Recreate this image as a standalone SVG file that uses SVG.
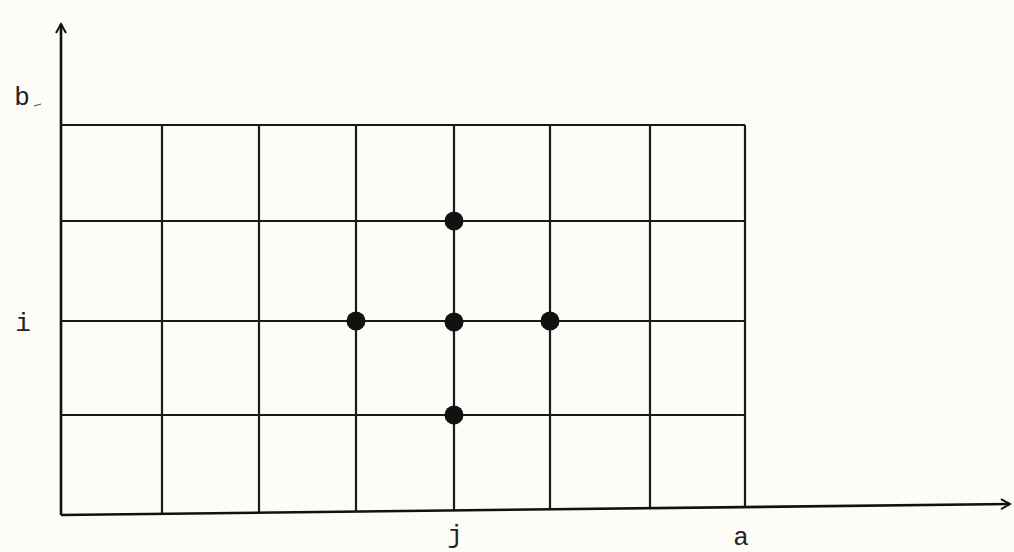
<svg xmlns="http://www.w3.org/2000/svg" width="1014" height="552" viewBox="0 0 1014 552">
<defs>
<style>
.g{stroke:#1a1a1a;stroke-width:2.2;fill:none}
.ax{stroke:#111;stroke-width:2.6;fill:none}
.d{fill:#111}
.t{font-family:"Liberation Mono","DejaVu Sans Mono",monospace;font-size:26px;fill:#222;text-anchor:middle}
</style>
<marker id="ah" viewBox="0 0 12 12" refX="10" refY="6" markerWidth="12" markerHeight="12" markerUnits="userSpaceOnUse" orient="auto">
<path d="M1,1 L10,6 L1,11" fill="none" stroke="#111" stroke-width="2"/>
</marker>
</defs>
<rect width="1014" height="552" fill="#fdfcf6"/>
<g id="connectors">
<g id="grid">
<line class="g" x1="61" y1="125" x2="745" y2="125"/>
<line class="g" x1="61" y1="221" x2="745" y2="221"/>
<line class="g" x1="61" y1="321" x2="745" y2="321"/>
<line class="g" x1="61" y1="415" x2="745" y2="415"/>
<line class="g" x1="162" y1="125" x2="162" y2="513"/>
<line class="g" x1="259" y1="125" x2="259" y2="512"/>
<line class="g" x1="356" y1="125" x2="356" y2="511"/>
<line class="g" x1="454" y1="125" x2="454" y2="510"/>
<line class="g" x1="550" y1="125" x2="550" y2="509"/>
<line class="g" x1="650" y1="125" x2="650" y2="508"/>
<line class="g" x1="745" y1="125" x2="745" y2="507"/>
</g>
<line id="yaxis" class="ax" x1="61" y1="515" x2="61" y2="24" marker-end="url(#ah)"/>
<line id="xaxis" class="ax" x1="61" y1="515" x2="1010" y2="504" marker-end="url(#ah)"/>
</g>
<g id="n-top"><circle class="d" cx="454" cy="221" r="9.5"/></g>
<g id="n-left"><circle class="d" cx="356" cy="321" r="9.5"/></g>
<g id="n-center"><circle class="d" cx="454" cy="322" r="9.5"/></g>
<g id="n-right"><circle class="d" cx="550" cy="321" r="9.5"/></g>
<g id="n-bottom"><circle class="d" cx="454" cy="415" r="9.5"/></g>
<g id="labels">
<text class="t" x="22" y="105">b</text>
<line x1="34" y1="106" x2="41" y2="104" stroke="#555" stroke-width="1.2"/>
<text class="t" x="23" y="331">i</text>
<text class="t" x="455" y="543">j</text>
<text class="t" x="741" y="545">a</text>
</g>
</svg>
